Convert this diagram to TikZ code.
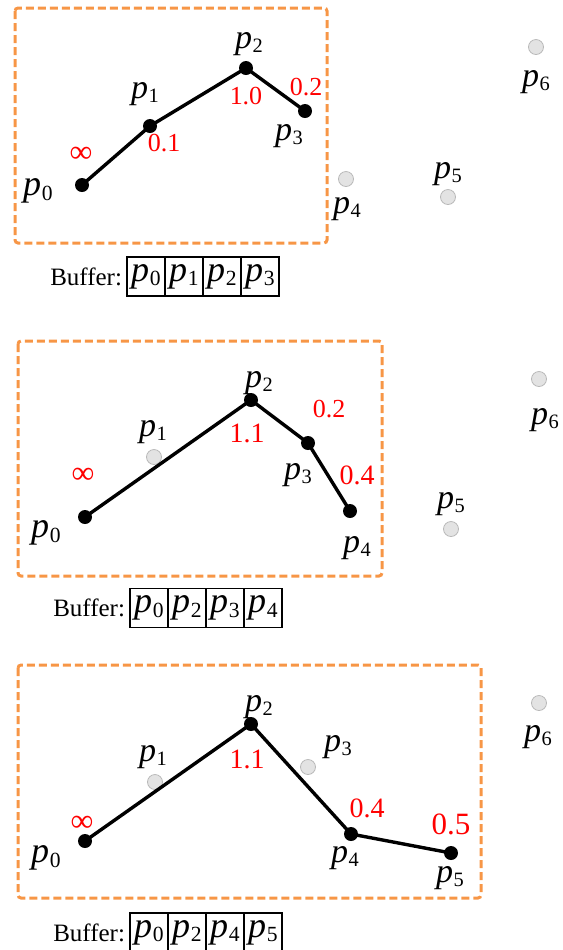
\documentclass[tikz,border=0pt]{standalone}
\usepackage{fontspec}
\setmainfont{Liberation Serif}
\usetikzlibrary{positioning}

\definecolor{winorange}{RGB}{247,150,70}
\newcommand{\pl}[1]{\textit{p}\kern0.02em\raisebox{-0.13em}{\scalebox{0.6}{#1}}}

\begin{document}
\begin{tikzpicture}[x=0.5pt, y=-0.5pt,
    kept/.style={circle, fill=black, inner sep=0pt, minimum size=7pt},
    skipped/.style={circle, fill=gray!22, draw=gray!55, line width=0.4pt, inner sep=0pt, minimum size=7.5pt},
    lbl/.style={font=\fontsize{17}{18}\selectfont, inner sep=0pt},
    err/.style={text=red, font=\fontsize{13}{13}\selectfont, inner sep=0pt},
    inf/.style={text=red, font=\fontsize{16}{16}\selectfont, inner sep=0pt},
    window/.style={draw=winorange, line width=1.5pt, dash pattern=on 4pt off 2pt, rounded corners=1.5pt},
    cell/.style={draw, line width=0.6pt, minimum width=19pt, minimum height=19.5pt, inner sep=0pt, font=\fontsize{18}{18}\selectfont},
    buf/.style={font=\fontsize{12.5}{13}\selectfont, inner sep=0pt},
    poly/.style={line width=1.7pt}]
    \useasboundingbox (0,0) rectangle (563,950);

    % ---------- Step 1 ----------
    \draw[window] (15,8) rectangle (327,243);
    \node[kept]    (a0) at (82,185)  {};
    \node[kept]    (a1) at (150,126) {};
    \node[kept]    (a2) at (246,68)  {};
    \node[kept]    (a3) at (305,111) {};
    \node[skipped] (a4) at (346,179) {};
    \node[skipped] (a5) at (448,197) {};
    \node[skipped] (a6) at (536,47)  {};
    \draw[poly] (a0.center) -- (a1.center) -- (a2.center) -- (a3.center);
    % point labels
    \node[lbl, font=\fontsize{18}{18}\selectfont] (la0) at (38,191)  {\pl0};
    \node[lbl] (la1) at (145,94)  {\pl1};
    \node[lbl] (la2) at (249,44)  {\pl2};
    \node[lbl] (la3) at (289,136) {\pl3};
    \node[lbl] (la4) at (347,209) {\pl4};
    \node[lbl] (la5) at (448,174) {\pl5};
    \node[lbl] (la6) at (536,82)  {\pl6};
    % error values
    \node[inf] (ea0) at (81,155)  {∞};
    \node[err] (ea1) at (164,143) {0.1};
    \node[err] (ea2) at (246,96)  {1.0};
    \node[err] (ea3) at (306,87)  {0.2};
    % buffer
    \node[cell] (ba0) at (146,276.5) {\pl0};
    \node[cell, right=-0.6pt of ba0] (ba1) {\pl1};
    \node[cell, right=-0.6pt of ba1] (ba2) {\pl2};
    \node[cell, right=-0.6pt of ba2] (ba3) {\pl3};
    \node[buf, left=2pt of ba0] (bfa) {Buffer:};

    % ---------- Step 2 ----------
    \draw[window] (18,341) rectangle (382,576);
    \node[kept]    (b0) at (85,517)  {};
    \node[skipped] (b1) at (154,457) {};
    \node[kept]    (b2) at (251,400) {};
    \node[kept]    (b3) at (308,443) {};
    \node[kept]    (b4) at (350,511) {};
    \node[skipped] (b5) at (451,529) {};
    \node[skipped] (b6) at (539,379) {};
    \draw[poly] (b0.center) -- (b2.center) -- (b3.center) -- (b4.center);
    % point labels
    \node[lbl, font=\fontsize{18}{18}\selectfont] (lb0) at (46,533)  {\pl0};
    \node[lbl] (lb1) at (153,432) {\pl1};
    \node[lbl] (lb2) at (259,383) {\pl2};
    \node[lbl] (lb3) at (298,475) {\pl3};
    \node[lbl] (lb4) at (357,548) {\pl4};
    \node[lbl] (lb5) at (451,504) {\pl5};
    \node[lbl] (lb6) at (545,420) {\pl6};
    % error values
    \node[inf] (eb0) at (83,476)  {∞};
    \node[err, font=\fontsize{14}{14}\selectfont] (eb2) at (247,433) {1.1};
    \node[err] (eb3) at (329,409) {0.2};
    \node[err, font=\fontsize{14}{14}\selectfont] (eb4) at (357,475) {0.4};
    % buffer
    \node[cell] (bb0) at (149,608) {\pl0};
    \node[cell, right=-0.6pt of bb0] (bb1) {\pl2};
    \node[cell, right=-0.6pt of bb1] (bb2) {\pl3};
    \node[cell, right=-0.6pt of bb2] (bb3) {\pl4};
    \node[buf, left=2pt of bb0] (bfb) {Buffer:};

    % ---------- Step 3 ----------
    \draw[window] (18,665) rectangle (481,898);
    \node[kept]    (c0) at (85,841)  {};
    \node[skipped] (c1) at (155,782) {};
    \node[kept]    (c2) at (251,724) {};
    \node[skipped] (c3) at (308,767) {};
    \node[kept]    (c4) at (351,834) {};
    \node[kept]    (c5) at (451,853) {};
    \node[skipped] (c6) at (539,703) {};
    \draw[poly] (c0.center) -- (c2.center) -- (c4.center) -- (c5.center);
    % point labels
    \node[lbl, font=\fontsize{18}{18}\selectfont] (lc0) at (46,858)  {\pl0};
    \node[lbl] (lc1) at (153,757) {\pl1};
    \node[lbl] (lc2) at (259,707) {\pl2};
    \node[lbl] (lc3) at (338,747) {\pl3};
    \node[lbl] (lc4) at (345,858) {\pl4};
    \node[lbl] (lc5) at (450,878) {\pl5};
    \node[lbl] (lc6) at (538,737) {\pl6};
    % error values
    \node[inf] (ec0) at (82,824)  {∞};
    \node[err, font=\fontsize{14}{14}\selectfont] (ec2) at (247,759) {1.1};
    \node[err, font=\fontsize{14}{14}\selectfont] (ec4) at (367,808) {0.4};
    \node[err, font=\fontsize{15.5}{16}\selectfont] (ec5) at (451,824) {0.5};
    % buffer
    \node[cell] (bc0) at (149,932.5) {\pl0};
    \node[cell, right=-0.6pt of bc0] (bc1) {\pl2};
    \node[cell, right=-0.6pt of bc1] (bc2) {\pl4};
    \node[cell, right=-0.6pt of bc2] (bc3) {\pl5};
    \node[buf, left=2pt of bc0] (bfc) {Buffer:};
\end{tikzpicture}
\end{document}
